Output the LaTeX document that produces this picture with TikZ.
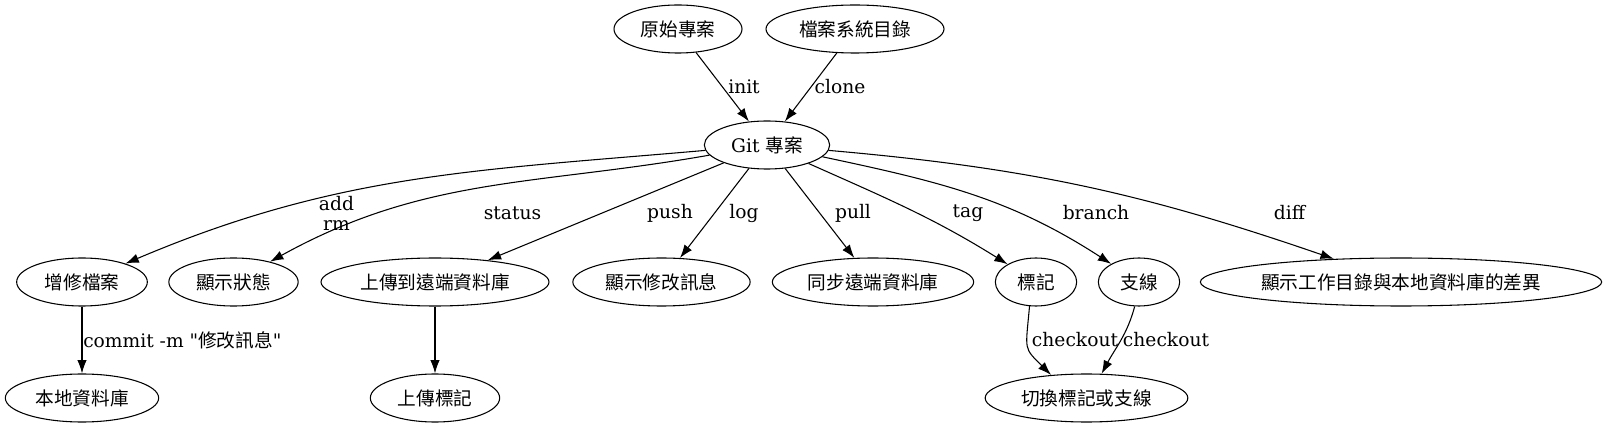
\documentclass[tikz,border=0pt]{standalone}
\usepackage{fontspec}
\newfontfamily\gvfont{DejaVu Serif}
\newfontfamily\cjk{Noto Sans CJK TC}
\usetikzlibrary{shapes.geometric, arrows.meta}

\begin{document}
\begin{tikzpicture}[x=0.75pt, y=0.75pt,
    every node/.style={font=\gvfont\fontsize{14pt}{15pt}\selectfont},
    gvnode/.style={draw, ellipse, line width=0.8pt, inner sep=0pt, minimum height=36pt},
    gvedge/.style={-{Latex[length=10pt, width=7pt]}, line width=0.8pt},
    gvlabel/.style={inner sep=0pt}]
    \useasboundingbox (0,0) rectangle (1606,-427);

    % Sources
    \node[gvnode, minimum width=96pt] (orig) at (678,-29) {\cjk 原始專案};
    \node[gvnode, minimum width=133.5pt] (fsdir) at (855,-29) {\cjk 檔案系統目錄};

    % Repository
    \node[gvnode, minimum width=94pt] (git) at (767,-145) {Git {\cjk 專案}};

    % Commands
    \node[gvnode, minimum width=98pt] (add) at (82,-282) {\cjk 增修檔案};
    \node[gvnode, minimum width=97pt] (status) at (233.5,-282) {\cjk 顯示狀態};
    \node[gvnode, minimum width=171pt] (push) at (435,-282) {\cjk 上傳到遠端資料庫};
    \node[gvnode, minimum width=133pt] (log) at (661.5,-282) {\cjk 顯示修改訊息};
    \node[gvnode, minimum width=151pt] (pull) at (873,-282) {\cjk 同步遠端資料庫};
    \node[gvnode, minimum width=61pt] (tag) at (1036,-282) {\cjk 標記};
    \node[gvnode, minimum width=61pt] (branch) at (1139,-282) {\cjk 支線};
    \node[gvnode, minimum width=301pt] (diff) at (1401,-282) {\cjk 顯示工作目錄與本地資料庫的差異};

    % Results
    \node[gvnode, minimum width=115pt] (local) at (82,-398) {\cjk 本地資料庫};
    \node[gvnode, minimum width=97pt] (pushtag) at (435,-398) {\cjk 上傳標記};
    \node[gvnode, minimum width=152pt] (checkout) at (1086.5,-398) {\cjk 切換標記或支線};

    % Edges
    \draw[gvedge] (orig) -- (git);
    \draw[gvedge] (fsdir) -- (git);
    \draw[gvedge] (git) to[out=185, in=23] (add);
    \draw[gvedge] (git) to[out=190, in=29] (status);
    \draw[gvedge] (git) -- (push);
    \draw[gvedge] (git) -- (log);
    \draw[gvedge] (git) -- (pull);
    \draw[gvedge] (git) to[out=-24, in=148] (tag);
    \draw[gvedge] (git) to[out=-12, in=147] (branch);
    \draw[gvedge] (git) to[out=-5, in=161] (diff);
    \draw[gvedge] (add) -- (local);
    \draw[gvedge] (push) -- (pushtag);
    \draw[gvedge] (tag.-105) .. controls +(-4,-45) and +(-28,28) .. (checkout.147);
    \draw[gvedge] (branch.-100) to[out=-105, in=62] (checkout.58);

    % Edge labels
    \node[gvlabel] (lblinit) at (744,-87) {init};
    \node[gvlabel] (lblclone) at (840,-87) {clone};
    \node[gvlabel, align=center] (lbladd) at (336.5,-213) {add\\rm};
    \node[gvlabel] (lblstatus) at (512.5,-213) {status};
    \node[gvlabel] (lblpush) at (670,-213) {push};
    \node[gvlabel] (lbllog) at (744,-213) {log};
    \node[gvlabel] (lblpull) at (853,-213) {pull};
    \node[gvlabel] (lbltag) at (968,-213) {tag};
    \node[gvlabel] (lblbranch) at (1096,-213) {branch};
    \node[gvlabel] (lbldiff) at (1289.5,-213) {diff};
    \node[gvlabel, anchor=west] (lblcommit) at (83,-340) {commit -m "{\cjk 修改訊息}"};
    \node[gvlabel] (lblcotag) at (1075,-340) {checkout};
    \node[gvlabel] (lblcobranch) at (1166,-340) {checkout};
\end{tikzpicture}
\end{document}
